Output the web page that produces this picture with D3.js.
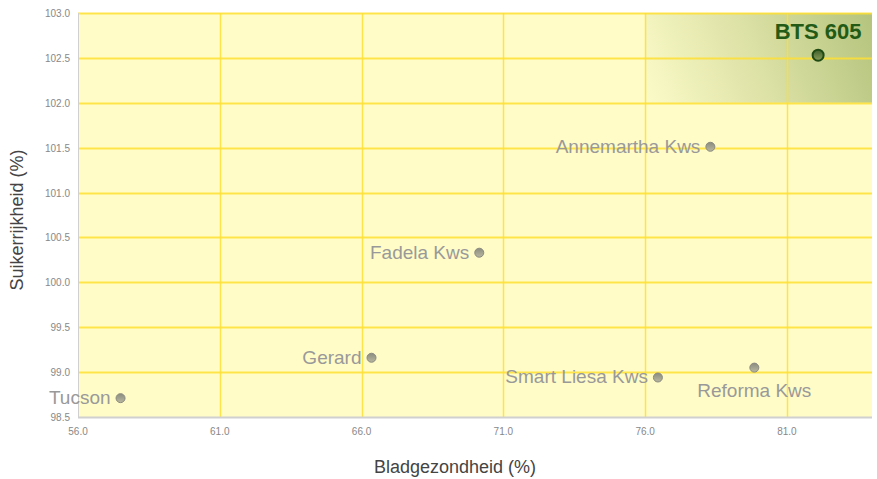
<!DOCTYPE html>
<html>
<head>
<meta charset="utf-8">
<script src="https://cdn.jsdelivr.net/npm/d3@7"></script>
<style>
  body { margin: 0; background: #fff; }
  text { font-family: "Liberation Sans", Arial, sans-serif; }
</style>
</head>
<body>
<svg width="877" height="479"></svg>
<script>
var names = ["BTS 605", "Annemartha Kws", "Fadela Kws", "Gerard", "Tucson", "Smart Liesa Kws", "Reforma Kws"];
var bladgezondheid = [82.1, 78.3, 70.15, 66.35, 57.5, 76.45, 79.85];
var suikerrijkheid = [102.53, 101.51, 100.33, 99.16, 98.71, 98.94, 99.05];
var labelPos = ["top", "left", "left", "left", "left", "left", "bottom"];
var xTicks = [56, 61, 66, 71, 76, 81];
var yTicks = [98.5, 99, 99.5, 100, 100.5, 101, 101.5, 102, 102.5, 103];

var svg = d3.select("svg");
var plotLeft = 78, plotRight = 872, plotTop = 13, plotBottom = 417;

var x = d3.scaleLinear().domain([56, 84]).range([plotLeft, plotRight]);
var y = d3.scaleLinear().domain([98.5, 103]).range([plotBottom, plotTop]);

var defs = svg.append("defs");
// highlight gradient, light at lower left, olive at upper right
var grad = defs.append("linearGradient")
    .attr("id", "hl")
    .attr("gradientUnits", "userSpaceOnUse")
    .attr("x1", x(76)).attr("y1", y(102))
    .attr("x2", x(84)).attr("y2", y(103));
grad.append("stop").attr("offset", "0%").attr("stop-color", "#fbfbc8");
grad.append("stop").attr("offset", "45%").attr("stop-color", "#dfe3a8");
grad.append("stop").attr("offset", "100%").attr("stop-color", "#b4c47e");

var dotGrad = defs.append("linearGradient")
    .attr("id", "dot").attr("x1", "0").attr("y1", "0").attr("x2", "0").attr("y2", "1");
dotGrad.append("stop").attr("offset", "0%").attr("stop-color", "#8c8c80");
dotGrad.append("stop").attr("offset", "100%").attr("stop-color", "#b8b8a0");

var dotGreen = defs.append("linearGradient")
    .attr("id", "dotg").attr("x1", "0").attr("y1", "0").attr("x2", "0").attr("y2", "1");
dotGreen.append("stop").attr("offset", "0%").attr("stop-color", "#3e5e2a");
dotGreen.append("stop").attr("offset", "100%").attr("stop-color", "#8a9c5a");

// plot background
svg.append("rect")
    .attr("x", plotLeft).attr("y", plotTop)
    .attr("width", plotRight - plotLeft).attr("height", plotBottom - plotTop)
    .style("fill", "#fffcc8");

// highlight zone
svg.append("rect")
    .attr("x", x(76)).attr("y", y(103))
    .attr("width", x(84) - x(76)).attr("height", y(102) - y(103))
    .style("fill", "url(#hl)");

// grid
svg.append("g").selectAll("line")
    .data(yTicks.slice(1))
    .enter().append("line")
    .attr("x1", plotLeft).attr("x2", plotRight)
    .attr("y1", function(d) { return Math.round(y(d)) + 0.5; })
    .attr("y2", function(d) { return Math.round(y(d)) + 0.5; })
    .style("stroke", "#ffe033").style("stroke-width", 2).style("opacity", 0.85);

svg.append("g").selectAll("line")
    .data(xTicks.slice(1))
    .enter().append("line")
    .attr("y1", plotTop).attr("y2", plotBottom)
    .attr("x1", function(d) { return Math.round(x(d)) + 0.5; })
    .attr("x2", function(d) { return Math.round(x(d)) + 0.5; })
    .style("stroke", "#ffe033").style("stroke-width", 1.5).style("opacity", 0.85);

// axes lines
svg.append("line")
    .attr("x1", plotLeft + 0.5).attr("x2", plotLeft + 0.5).attr("y1", plotTop).attr("y2", plotBottom)
    .style("stroke", "#d0d0d0");
svg.append("line")
    .attr("x1", plotLeft).attr("x2", plotRight).attr("y1", plotBottom + 0.5).attr("y2", plotBottom + 0.5)
    .style("stroke", "#d0d0d0").style("stroke-width", 2);

// tick labels
svg.append("g").selectAll("text")
    .data(yTicks)
    .enter().append("text")
    .attr("x", plotLeft - 8)
    .attr("y", function(d) { return y(d) + 4; })
    .attr("text-anchor", "end")
    .style("font-size", "10px").style("fill", "#888")
    .text(function(d) { return d.toFixed(1); });

svg.append("g").selectAll("text")
    .data(xTicks)
    .enter().append("text")
    .attr("x", function(d) { return x(d); })
    .attr("y", plotBottom + 18)
    .attr("text-anchor", "middle")
    .style("font-size", "10px").style("fill", "#888")
    .text(function(d) { return d.toFixed(1); });

// axis titles
svg.append("text")
    .attr("x", 455).attr("y", 473)
    .attr("text-anchor", "middle")
    .style("font-size", "18px").style("fill", "#444")
    .text("Bladgezondheid (%)");
svg.append("text")
    .attr("transform", "translate(23,220) rotate(-90)")
    .attr("text-anchor", "middle")
    .style("font-size", "18px").style("fill", "#444")
    .text("Suikerrijkheid (%)");

// points
var data = names.map(function(n, i) {
    return { name: n, bx: bladgezondheid[i], sy: suikerrijkheid[i], pos: labelPos[i] };
});

var pts = svg.append("g").selectAll("g")
    .data(data)
    .enter().append("g")
    .attr("transform", function(d) { return "translate(" + x(d.bx) + "," + y(d.sy) + ")"; });

pts.append("circle")
    .attr("r", function(d, i) { return i === 0 ? 5.5 : 4.5; })
    .style("fill", function(d, i) { return i === 0 ? "url(#dotg)" : "url(#dot)"; })
    .style("stroke", function(d, i) { return i === 0 ? "#1f4a14" : "#8a8a80"; })
    .style("stroke-width", function(d, i) { return i === 0 ? 2 : 1; });

pts.append("text")
    .attr("x", function(d) { return d.pos === "left" ? -10 : 0; })
    .attr("y", function(d) { return d.pos === "top" ? -16 : d.pos === "bottom" ? 29 : 6; })
    .attr("text-anchor", function(d) { return d.pos === "left" ? "end" : "middle"; })
    .style("font-size", function(d, i) { return i === 0 ? "22px" : "19px"; })
    .style("font-weight", function(d, i) { return i === 0 ? "bold" : "normal"; })
    .style("fill", function(d, i) { return i === 0 ? "#235b16" : "#999"; })
    .text(function(d) { return d.name; });
</script>
</body>
</html>
